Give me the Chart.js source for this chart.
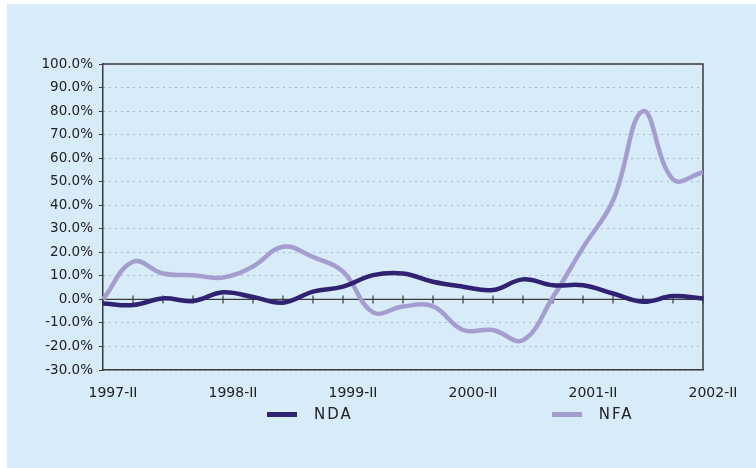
<!DOCTYPE html>
<html>
<head>
<meta charset="utf-8">
<script src="https://cdn.jsdelivr.net/npm/chart.js@4/dist/chart.umd.min.js"></script>
<style>
  body { margin: 0; background: #fff; width: 756px; height: 468px; overflow: hidden; position: relative; }
  #panel { position: absolute; left: 7px; top: 4px; width: 749px; height: 464px; background: #d8ebf8; }
  #wrap { position: absolute; left: 0; top: 0; width: 749px; height: 404px; }
  #legend { position: absolute; left: 260px; top: 401px; display: flex; align-items: center;
            font-family: "DejaVu Sans", sans-serif; font-size: 15px; letter-spacing: 2px; color: #222; }
  #legend .item { display: flex; align-items: center; margin-right: 199px; }
  #legend .sw { width: 30px; height: 5px; margin-right: 17px; }
</style>
</head>
<body>
<div id="panel">
  <div id="wrap"><canvas id="nfaChart"></canvas></div>
  <div id="legend"></div>
</div>
<script>
// quarterly, 1997-II .. 2002-II
var quarters = ["1997-II", "1997-III", "1997-IV", "1998-I", "1998-II", "1998-III", "1998-IV",
  "1999-I", "1999-II", "1999-III", "1999-IV", "2000-I", "2000-II", "2000-III", "2000-IV",
  "2001-I", "2001-II", "2001-III", "2001-IV", "2002-I", "2002-II"];
var nda = [-1.7, -2.4, 0.4, -0.7, 3.0, 1.0, -1.4, 3.3, 5.4, 10.3, 11.0, 7.5, 5.4, 4.0, 8.5,
  6.0, 6.0, 2.5, -1.0, 1.4, 0.4];
var nfa = [0.0, 16.0, 11.0, 10.3, 9.3, 14.0, 22.4, 18.0, 11.8, -5.5, -3.0, -3.0, -13.0, -13.0, -17.3,
  1.0, 22.0, 42.0, 80.0, 51.0, 54.0];
var yTicks = { min: -30, max: 100, step: 10 };

var seriesNames = ["NDA", "NFA"];
var seriesColors = ["#2f2272", "#a59dd0"];

var frame = {
  id: "frame",
  beforeDatasetsDraw: function (chart) {
    var ctx = chart.ctx, a = chart.chartArea;
    var x = chart.scales.x, y = chart.scales.y;
    ctx.save();
    ctx.strokeStyle = "#3b3b3b";
    ctx.lineWidth = 1.5;
    ctx.beginPath();
    ctx.moveTo(a.left, a.top);
    ctx.lineTo(a.right, a.top);
    ctx.lineTo(a.right, a.bottom);
    ctx.stroke();
    // category axis crosses at 0
    var y0 = y.getPixelForValue(0);
    ctx.lineWidth = 1.2;
    ctx.beginPath();
    ctx.moveTo(a.left, y0);
    ctx.lineTo(a.right, y0);
    quarters.forEach(function (q, i) {
      var px = x.getPixelForValue(i);
      ctx.moveTo(px, y0 - 4);
      ctx.lineTo(px, y0 + 4);
    });
    ctx.stroke();
    ctx.restore();
  }
};

var ctx = document.getElementById("nfaChart").getContext("2d");
var myChart = new Chart(ctx, {
  type: "line",
  data: {
    labels: quarters,
    datasets: [
      { label: seriesNames[0], data: nda, borderColor: seriesColors[0], backgroundColor: seriesColors[0],
        borderWidth: 4.5, pointRadius: 0, tension: 0.4, fill: false },
      { label: seriesNames[1], data: nfa, borderColor: seriesColors[1], backgroundColor: seriesColors[1],
        borderWidth: 4.5, pointRadius: 0, tension: 0.4, fill: false }
    ]
  },
  options: {
    responsive: true,
    maintainAspectRatio: false,
    animation: false,
    layout: { padding: { top: 60, right: 53, left: 0, bottom: 0 } },
    plugins: { legend: { display: false }, tooltip: { enabled: false } },
    scales: {
      x: {
        offset: false,
        grid: { display: false },
        border: { display: true, color: "#3b3b3b", width: 1.5 },
        ticks: {
          autoSkip: false, maxRotation: 0, padding: 7, labelOffset: 10,
          color: "#222", font: { family: "DejaVu Sans", size: 14 },
          callback: function (v, i) { return i % 4 === 0 ? quarters[i] : ""; }
        },
        afterFit: function (s) { s.height = 38; }
      },
      y: {
        min: yTicks.min, max: yTicks.max,
        grid: { color: "#7a8a9c", lineWidth: 1, tickLength: 4, tickColor: "#3b3b3b" },
        border: { display: true, color: "#3b3b3b", width: 1.5, dash: [1, 5] },
        ticks: {
          stepSize: yTicks.step, padding: 6, color: "#222", font: { family: "DejaVu Sans", size: 13.5 },
          callback: function (v) { return v.toFixed(1) + "%"; }
        },
        afterFit: function (s) { s.width = 96; }
      }
    }
  },
  plugins: [frame]
});

// legend
var legend = document.getElementById("legend");
seriesNames.forEach(function (name, i) {
  var item = document.createElement("div");
  item.className = "item";
  var sw = document.createElement("span");
  sw.className = "sw";
  sw.style.background = seriesColors[i];
  var txt = document.createElement("span");
  txt.textContent = name;
  item.appendChild(sw);
  item.appendChild(txt);
  legend.appendChild(item);
});
</script>
</body>
</html>
